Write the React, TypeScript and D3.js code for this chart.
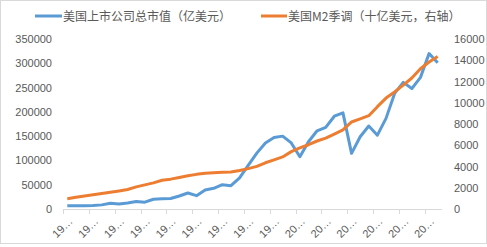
import React from "react";
import * as d3 from "d3";

const years: number[] = d3.range(1975, 2019);
// 美国上市公司总市值（亿美元）
const marketCap: number[] = [
  6500, 6800, 6600, 7000, 8500, 12000, 10500, 12500, 15500, 14000,
  20000, 21000, 21500, 26700, 33000, 27400, 39000, 42600, 50000, 48000,
  64000, 90000, 115000, 136000, 147000, 150000, 136000, 107600, 138500, 161000,
  168000, 191000, 198000, 114600, 148800, 170800, 152000, 186600, 238000, 260700,
  248000, 271000, 320000, 301000,
];
// 美国M2季调（十亿美元）
const m2: number[] = [
  960, 1100, 1230, 1340, 1450, 1570, 1700, 1830, 2080, 2270,
  2460, 2700, 2810, 2970, 3130, 3260, 3360, 3410, 3460, 3480,
  3620, 3800, 4010, 4350, 4620, 4900, 5400, 5750, 6050, 6400,
  6670, 7050, 7450, 8190, 8480, 8780, 9630, 10440, 11020, 11660,
  12330, 13200, 13840, 14350,
];
const leftTicks: number[] = [0, 50000, 100000, 150000, 200000, 250000, 300000, 350000];
const rightTicks: number[] = [0, 2000, 4000, 6000, 8000, 10000, 12000, 14000, 16000];
const seriesNames: string[] = ["美国上市公司总市值（亿美元）", "美国M2季调（十亿美元，右轴）"];
const colors: string[] = ["#5b9bd5", "#ed7d31"];

const W = 487;
const H = 247;
const x0 = 63;
const x1 = 442;
const yTop = 39;
const yBot = 209;
const font = "'Liberation Sans', 'Noto Sans CJK SC', sans-serif";

export default function App() {
  const x = d3.scaleBand<number>().domain(years).range([x0, x1]);
  const cx = (yr: number) => (x(yr) as number) + x.bandwidth() / 2;
  const yL = d3.scaleLinear().domain([0, 350000]).range([yBot, yTop]);
  const yR = d3.scaleLinear().domain([0, 16000]).range([yBot, yTop]);

  const lineL = d3
    .line<number>()
    .x((_, i) => cx(years[i]))
    .y((d) => yL(d));
  const lineR = d3
    .line<number>()
    .x((_, i) => cx(years[i]))
    .y((d) => yR(d));

  const tickYears = years.filter((_, i) => i % 3 === 0);

  return (
    <svg
      width={W}
      height={H}
      style={{ position: "absolute", left: 0, top: 0, background: "#fff" }}
      fontFamily={font}
    >
      <rect x={0.5} y={0.5} width={W - 1} height={243} fill="#fff" stroke="#d9d9d9" />
      {/* legend */}
      <line x1={35} x2={62} y1={16} y2={16} stroke={colors[0]} strokeWidth={3} />
      <text x={63} y={20.5} fontSize={12} fill="#595959" fontFamily="'Noto Sans CJK SC', sans-serif">
        {seriesNames[0]}
      </text>
      <line x1={261} x2={287} y1={16} y2={16} stroke={colors[1]} strokeWidth={3} />
      <text x={288} y={20.5} fontSize={12} fill="#595959" fontFamily="'Noto Sans CJK SC', sans-serif">
        {seriesNames[1]}
      </text>

      {/* left axis labels */}
      {leftTicks.map((t) => (
        <text key={"l" + t} x={52} y={yL(t) + 4} fontSize={11} fill="#595959" textAnchor="end">
          {t}
        </text>
      ))}
      {/* right axis labels */}
      {rightTicks.map((t) => (
        <text key={"r" + t} x={454} y={yR(t) + 4} fontSize={11} fill="#595959" textAnchor="start">
          {t}
        </text>
      ))}

      {/* x axis */}
      <line x1={x0} x2={x1} y1={yBot + 0.5} y2={yBot + 0.5} stroke="#d9d9d9" />
      {tickYears.map((yr) => {
        const tx = Math.round(x(yr) as number) + 0.5;
        return <line key={"t" + yr} x1={tx} x2={tx} y1={yBot} y2={yBot + 5} stroke="#d9d9d9" />;
      })}
      {tickYears.map((yr) => {
        const ax = cx(yr) + 6;
        const ay = 222;
        return (
          <text
            key={"x" + yr}
            x={ax}
            y={ay}
            fontSize={11}
            fill="#595959"
            textAnchor="end"
            transform={`rotate(-45 ${ax} ${ay})`}
          >
            {String(yr).slice(0, 2) + "…"}
          </text>
        );
      })}

      {/* lines */}
      <path d={lineL(marketCap) || ""} fill="none" stroke={colors[0]} strokeWidth={3} strokeLinejoin="round" />
      <path d={lineR(m2) || ""} fill="none" stroke={colors[1]} strokeWidth={3} strokeLinejoin="round" />
    </svg>
  );
}
